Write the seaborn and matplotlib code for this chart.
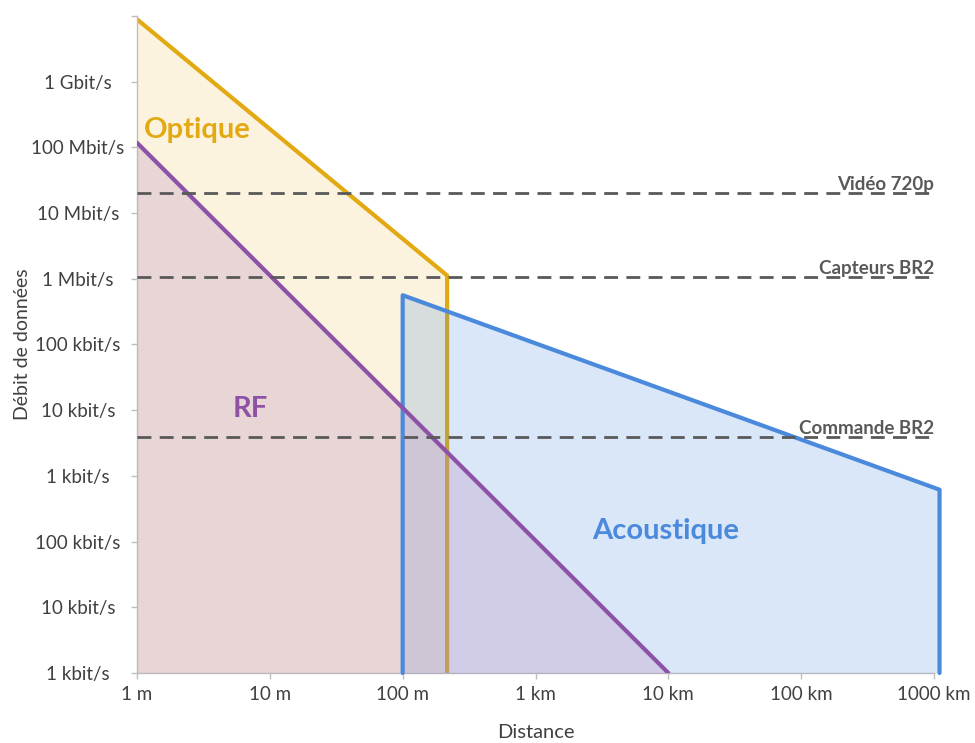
import numpy as np
import pandas as pd
import matplotlib
matplotlib.use("Agg")
import matplotlib.pyplot as plt
import seaborn as sns

# === Data (distance in m, rate in bit/s) ===
optique_dist = [1, 216, 216]
optique_rate = [10**9.95, 10**6.05, 1]

rf_dist = [1, 1e4]
rf_rate = [10**8.07, 1]

acou_dist = [100, 100, 1.1e6, 1.1e6]
acou_rate = [1, 10**5.75, 10**2.79, 1]

seuil_noms = ["Vidéo 720p", "Capteurs BR2", "Commande BR2"]
seuil_vals = [10**7.31, 10**6.03, 10**3.59]

x_ticks = [1, 10, 100, 1e3, 1e4, 1e5, 1e6]
x_labels = ["1 m", "10 m", "100 m", "1 km", "10 km", "100 km", "1000 km"]
y_ticks = [10**i for i in range(11)]
y_labels = ["1 kbit/s", "10 kbit/s", "100 kbit/s", "1 kbit/s", "10 kbit/s",
            "100 kbit/s", "1 Mbit/s", "10 Mbit/s", "100 Mbit/s", "1 Gbit/s", ""]

# couleurs
c_opt = "#E3A912"
c_rf = "#8D52A6"
c_ac = "#4A89DC"
c_grey = "#595959"
c_text = "#404040"

sns.set_theme(style="white")
plt.rcParams["font.family"] = ["Lato", "DejaVu Sans"]

fig = plt.figure(figsize=(9.75, 7.43), dpi=100)
ax = fig.add_axes([0.1405, 0.0942, 0.8175, 0.8843])
ax.set_xscale("log")
ax.set_yscale("log")
ax.set_xlim(1, 1e6)
ax.set_ylim(1, 1e10)

# === Zones ===
ax.fill_between(optique_dist, optique_rate, 1, color="#FBF3DD", lw=0, zorder=1)
sns.lineplot(x=optique_dist, y=optique_rate, ax=ax, color=c_opt, lw=3,
             sort=False, estimator=None, zorder=2)

ax.fill_between(acou_dist, acou_rate, 1, color=c_ac, alpha=0.2, lw=0,
                zorder=3, clip_on=False)
ax.fill_between(rf_dist, rf_rate, 1, color=(190/255, 145/255, 197/255),
                alpha=0.3, lw=0, zorder=4)

sns.lineplot(x=acou_dist, y=acou_rate, ax=ax, color=c_ac, lw=3,
             sort=False, estimator=None, zorder=5, clip_on=False)
sns.lineplot(x=rf_dist, y=rf_rate, ax=ax, color=c_rf, lw=3,
             sort=False, estimator=None, zorder=6)

# === Seuils ===
for nom, val in zip(seuil_noms, seuil_vals):
    ax.axhline(val, color=c_grey, lw=2, dashes=(5, 3), zorder=7)
    ax.text(1e6, val * 0.99, nom, ha="right", va="bottom", fontsize=13.5,
            fontweight="bold", color=c_grey, zorder=8)

# === Labels zones ===
ax.text(1.12, 10**8.27, "Optique", color=c_opt, fontsize=21,
        fontweight="bold", ha="left", va="center", zorder=9)
ax.text(10**0.853, 10**4.02, "RF", color=c_rf, fontsize=21,
        fontweight="bold", ha="center", va="center", zorder=9)
ax.text(10**3.976, 10**2.16, "Acoustique", color=c_ac, fontsize=21,
        fontweight="bold", ha="center", va="center", zorder=9)

# === Axes ===
ax.set_xticks(x_ticks)
ax.set_xticklabels(x_labels)
ax.set_yticks(y_ticks)
ax.set_yticklabels(y_labels)
ax.minorticks_off()
for lab in ax.get_yticklabels():
    lab.set_ha("center")
ax.tick_params(axis="y", which="major", length=4.5, width=1, color="#BFBFBF",
               pad=38, labelsize=13.5, labelcolor=c_text, left=True)
ax.tick_params(axis="x", which="major", length=4.5, width=1, color="#BFBFBF",
               pad=5, labelsize=13.5, labelcolor=c_text, bottom=True)

for s in ["top", "right"]:
    ax.spines[s].set_visible(False)
for s in ["left", "bottom"]:
    ax.spines[s].set_color("#BFBFBF")
    ax.spines[s].set_linewidth(1)

ax.set_xlabel("Distance", fontsize=14.5, color=c_text, labelpad=15)
ax.set_ylabel("Débit de données", fontsize=14, color=c_text, labelpad=0)
ax.grid(False)

fig.savefig("out.png", dpi=100)
plt.close(fig)
